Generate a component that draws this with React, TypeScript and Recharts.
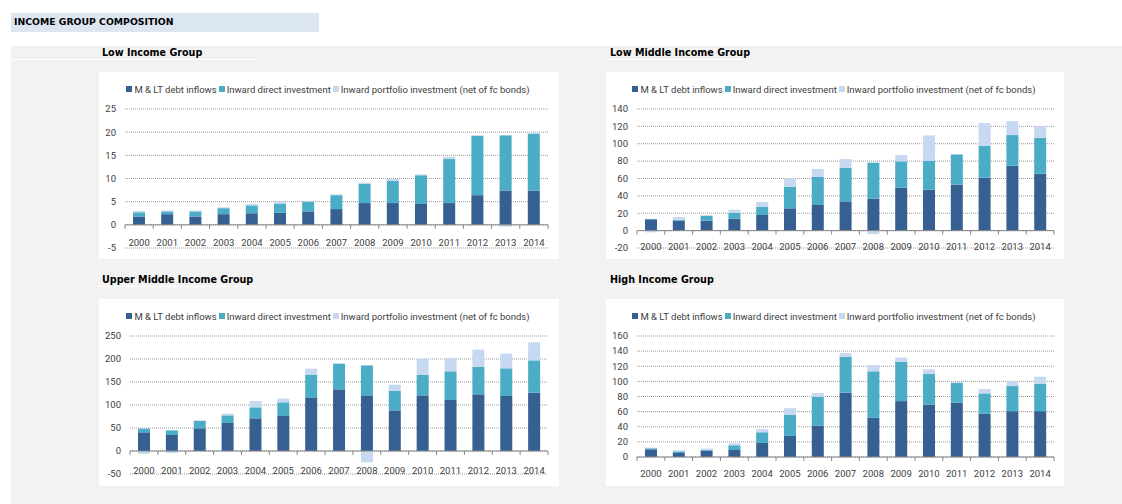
import React from 'react';
import { BarChart, Bar, XAxis, YAxis, CartesianGrid, ReferenceLine } from 'recharts';

const YEARS = ['2000', '2001', '2002', '2003', '2004', '2005', '2006', '2007', '2008', '2009', '2010', '2011', '2012', '2013', '2014'];

// Low income group (USD bn)
const lowDebt = [1.8, 2.3, 1.8, 2.3, 2.5, 2.6, 2.9, 3.4, 4.7, 4.7, 4.5, 4.7, 6.4, 7.4, 7.4];
const lowFdi = [0.9, 0.6, 1.1, 1.3, 1.7, 1.9, 2.1, 3.0, 4.2, 4.8, 6.2, 9.5, 12.8, 11.9, 12.2];
const lowPort = [0.3, 0.2, 0.2, 0.2, 0.3, 0.5, 0.2, 0.2, 0.2, 0.4, 0.2, 0.5, 0.2, -0.4, 0.3];
const lowTicks = [-5, 0, 5, 10, 15, 20, 25];

// Low middle income group
const lowMidDebt = [13, 11.5, 11.5, 13.8, 18, 25.7, 29.5, 33.7, 36.8, 49.4, 47.1, 52.9, 60.9, 74.7, 65.5];
const lowMidFdi = [0.5, 1.1, 5.7, 6.5, 9.2, 24.9, 32.2, 38.7, 41.4, 30.3, 33.4, 34.8, 36.8, 35.3, 41.4];
const lowMidPort = [-2, 3.1, 0.8, 3.8, 5.8, 9.6, 9.2, 10, -4, 7.3, 29.1, 0.3, 26.1, 16, 13.4];
const lowMidTicks = [-20, 0, 20, 40, 60, 80, 100, 120, 140];

// Upper middle income group
const upMidDebt = [40.6, 34.8, 49.3, 60.9, 71, 76.1, 115.2, 134, 121, 88.4, 121, 110.9, 123.2, 119.6, 126.8];
const upMidFdi = [8, 10.1, 15.9, 16.6, 23.9, 29.7, 50.8, 55.9, 65, 42.8, 45, 62.3, 59.4, 60.1, 70.2];
const upMidPort = [-5.8, -4.3, 1.5, 3.7, 13.8, 8, 13, 0.7, -24.6, 13, 34.7, 28.2, 37.7, 31.9, 39.2];
const upMidTicks = [-50, 0, 50, 100, 150, 200, 250];

// High income group
const highDebt = [10.2, 5.3, 8.4, 9.3, 18.6, 27.9, 41.2, 85, 51.8, 73.9, 69, 71.7, 57.1, 60.6, 60.6];
const highFdi = [1.3, 2.2, 0.9, 6.2, 14.1, 27.9, 38.4, 47.3, 61.5, 52.2, 40.7, 26.1, 27, 33.2, 35.9];
const highPort = [0.9, 1.3, 1.8, 2.6, 4, 8.8, 4.9, 5.3, 8.4, 5.3, 6.2, 1.3, 5.7, 6.2, 9.7];
const highTicks = [0, 20, 40, 60, 80, 100, 120, 140, 160];

const SERIES = [
  { key: 'debt', name: 'M & LT debt inflows', color: '#376092' },
  { key: 'fdi', name: 'Inward direct investment', color: '#4bacc6' },
  { key: 'port', name: 'Inward portfolio investment (net of fc bonds)', color: '#c6d9f1' },
];

const FONT = 'Roboto, "Liberation Sans", sans-serif';
const TITLE_FONT = '"DejaVu Sans", Verdana, sans-serif';
const TXT = '#404040';
const X_AXIS_H = 2;

const buildRows = (debt: number[], fdi: number[], port: number[]) =>
  YEARS.map((year, i) => ({ year, debt: debt[i], fdi: fdi[i], port: port[i] }));

// year label sits just under the zero line, with Excel-style tick marks between categories
const YearTick = (props: any) => {
  const { x, y, payload, index, zeroUp, band, labelDy } = props;
  const zy = y - zeroUp;
  const last = index === YEARS.length - 1;
  return (
    <g>
      <line x1={x - band / 2} x2={x - band / 2} y1={zy} y2={zy + 4} stroke="#868686" />
      {last && <line x1={x + band / 2} x2={x + band / 2} y1={zy} y2={zy + 4} stroke="#868686" />}
      <text x={x} y={zy + labelDy} textAnchor="middle" dominantBaseline="central" fontSize={9.5} fontFamily={FONT} fill={TXT}>
        {payload.value}
      </text>
    </g>
  );
};

type PanelProps = {
  title: string;
  left: number;
  top: number;
  width: number;
  height: number;
  yWidth: number;
  margin: { top: number; right: number; bottom: number };
  ticks: number[];
  labelDy: number;
  rows: any[];
  underline: [number, number];
};

function Panel({ title, left, top, width, height, yWidth, margin, ticks, labelDy, rows, underline }: PanelProps) {
  const min = ticks[0];
  const max = ticks[ticks.length - 1];
  const plotH = height - margin.top - margin.bottom;
  const plotW = width - yWidth - margin.right;
  const zeroUp = (plotH * (0 - min)) / (max - min);
  const band = plotW / YEARS.length;
  return (
    <>
      <div style={{ position: 'absolute', left: underline[0], top: top - 13, width: underline[1] - underline[0], height: 1, background: '#fff' }} />
      <div
        style={{
          position: 'absolute', left: left + (left > 500 ? 4 : 3), top: top - 25, fontFamily: TITLE_FONT,
          fontWeight: 'bold', fontSize: 9.6, lineHeight: '12px', color: '#000', whiteSpace: 'nowrap',
        }}
      >
        {title}
      </div>
      <div style={{ position: 'absolute', left, top, width, height, background: '#fff' }}>
        <div
          style={{
            position: 'absolute', left: 0, top: 11, width, height: 12, display: 'flex', justifyContent: 'center',
            alignItems: 'center', fontFamily: FONT, fontSize: 9.5, color: TXT, whiteSpace: 'nowrap',
          }}
        >
          {SERIES.map(s => (
            <span key={s.key} style={{ display: 'flex', alignItems: 'center', marginRight: 2 }}>
              <span style={{ width: 6, height: 6, background: s.color, marginRight: 2, display: 'inline-block' }} />
              {s.name}
            </span>
          ))}
        </div>
        <BarChart
          width={width}
          height={height}
          data={rows}
          stackOffset="sign"
          margin={{ top: margin.top, right: margin.right, bottom: margin.bottom - X_AXIS_H, left: 0 }}
        >
          <CartesianGrid vertical={false} stroke="#9a9a9a" strokeDasharray="1 1" />
          <XAxis
            dataKey="year"
            height={X_AXIS_H}
            axisLine={false}
            tickLine={false}
            tickSize={0}
            tickMargin={0}
            interval={0}
            tick={(p: any) => <YearTick {...p} zeroUp={zeroUp} band={band} labelDy={labelDy} />}
          />
          <YAxis
            width={yWidth}
            domain={[min, max]}
            ticks={ticks}
            interval={0}
            axisLine={false}
            tickLine={false}
            tickMargin={3}
            tick={{ fontSize: 9.5, fontFamily: FONT, fill: TXT }}
          />
          {SERIES.map(s => (
            <Bar key={s.key} dataKey={s.key} name={s.name} stackId="a" fill={s.color} barSize={12} isAnimationActive={false} />
          ))}
          <ReferenceLine y={0} stroke="#868686" />
        </BarChart>
      </div>
    </>
  );
}

export default function App() {
  return (
    <div style={{ position: 'absolute', left: 0, top: 0, width: 1122, height: 504, background: '#fff', overflow: 'hidden' }}>
      <div style={{ position: 'absolute', left: 11, top: 13, width: 308, height: 19, background: '#dce6f1' }} />
      <div
        style={{
          position: 'absolute', left: 14, top: 16, fontFamily: TITLE_FONT, fontWeight: 'bold', fontSize: 9.3,
          lineHeight: '12px', color: '#000', whiteSpace: 'nowrap',
        }}
      >
        INCOME GROUP COMPOSITION
      </div>
      <div style={{ position: 'absolute', left: 11, top: 46, width: 1111, height: 458, background: '#f2f2f2' }} />

      <Panel
        title="Low Income Group"
        left={99} top={72} width={460} height={187} yWidth={26}
        margin={{ top: 37, right: 11, bottom: 11 }}
        ticks={lowTicks} labelDy={17.5}
        rows={buildRows(lowDebt, lowFdi, lowPort)}
        underline={[11, 257]}
      />
      <Panel
        title="Low Middle Income Group"
        left={606} top={72} width={458} height={187} yWidth={31}
        margin={{ top: 37, right: 10, bottom: 11 }}
        ticks={lowMidTicks} labelDy={15.5}
        rows={buildRows(lowMidDebt, lowMidFdi, lowMidPort)}
        underline={[606, 749]}
      />
      <Panel
        title="Upper Middle Income Group"
        left={99} top={299} width={460} height={187} yWidth={31}
        margin={{ top: 37, right: 11, bottom: 12 }}
        ticks={upMidTicks} labelDy={19.5}
        rows={buildRows(upMidDebt, upMidFdi, upMidPort)}
        underline={[99, 257]}
      />
      <Panel
        title="High Income Group"
        left={606} top={299} width={458} height={187} yWidth={31}
        margin={{ top: 37, right: 10, bottom: 29 }}
        ticks={highTicks} labelDy={16}
        rows={buildRows(highDebt, highFdi, highPort)}
        underline={[606, 714]}
      />
    </div>
  );
}
